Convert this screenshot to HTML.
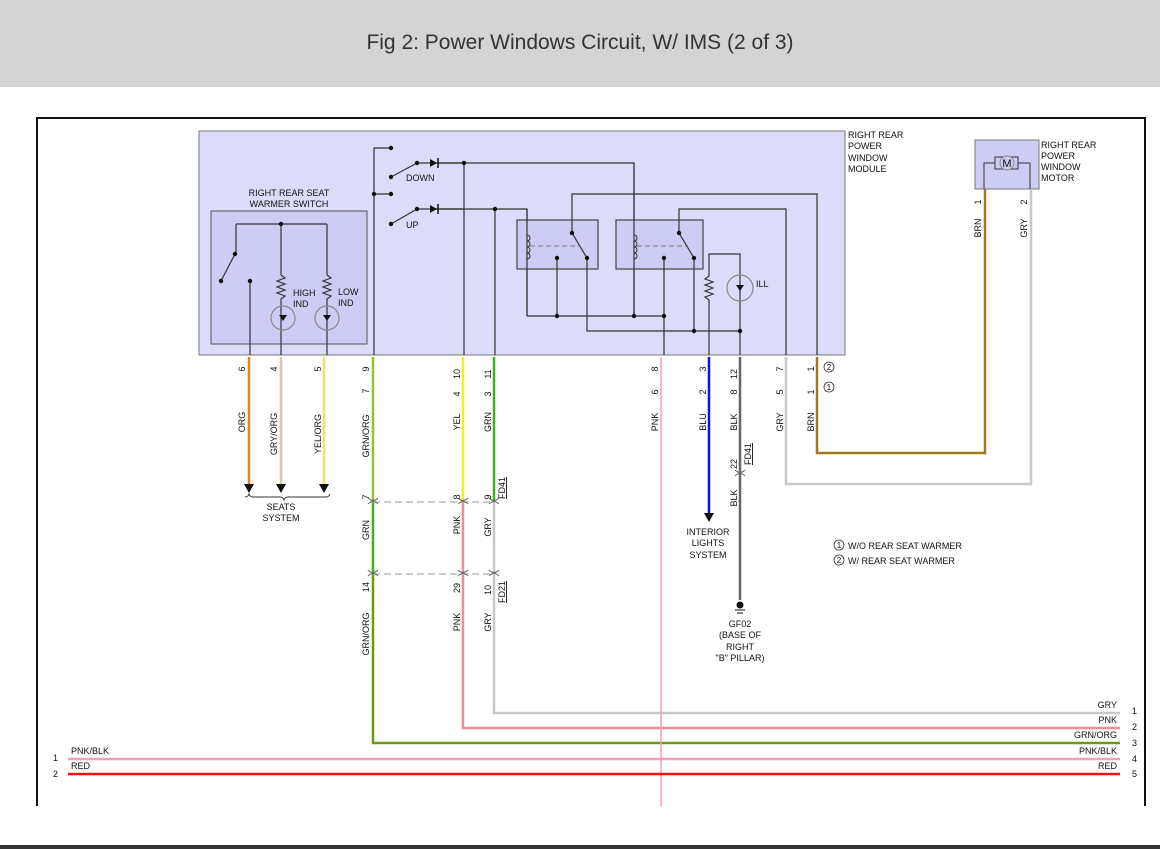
<!DOCTYPE html>
<html><head><meta charset="utf-8"><style>
html,body{margin:0;padding:0;background:#fff;}
svg{display:block;font-family:"Liberation Sans",sans-serif;}
text{font-size:9px;fill:#111;}
</style></head><body>
<svg width="1160" height="849" viewBox="0 0 1160 849" xmlns="http://www.w3.org/2000/svg">
<rect x="0" y="0" width="1160" height="87" fill="#d4d4d4"/>
<text x="580" y="49" text-anchor="middle" style="font-size:21px;fill:#333">Fig 2: Power Windows Circuit, W/ IMS (2 of 3)</text>
<rect x="0" y="845" width="1160" height="4" fill="#333"/>
<!-- frame -->
<path d="M37 806 V118 H1145 V806" fill="none" stroke="#111" stroke-width="2"/>

<!-- module -->
<rect x="199" y="131" width="646" height="224" fill="#dcdcfa" stroke="#777" stroke-width="1"/>
<text x="848" y="138">RIGHT REAR</text><text x="848" y="149">POWER</text><text x="848" y="161">WINDOW</text><text x="848" y="172">MODULE</text>
<rect x="211" y="211" width="156" height="133" fill="#ccccf4" stroke="#555"/>
<text x="289" y="196" text-anchor="middle">RIGHT REAR SEAT</text>
<text x="289" y="207" text-anchor="middle">WARMER SWITCH</text>

<g stroke="#333" stroke-width="1.2" fill="none">
<!-- warmer switch internals -->
<path d="M236 224 H327 M236 224 V254 M235 254 L221 281 M250 281 V355 M281 224 V275 M327 224 V275"/>
<path d="M281 275 l4 3 l-8 3 l8 3 l-8 3 l8 3 l-8 3 l8 3 l-4 3 V355"/>
<path d="M327 275 l4 3 l-8 3 l8 3 l-8 3 l8 3 l-8 3 l8 3 l-4 3 V355"/>
<circle cx="283" cy="318" r="12" stroke="#888"/><circle cx="327" cy="318" r="12" stroke="#888"/>
<!-- switches -->
<path d="M391 148 H374 V355 M374 194 H391 M391 177 L417 163 M391 224 L417 209"/>
<path d="M417 163 H464 M417 209 H464"/>
<path d="M438 163 H634 V316 M464 163 V355 M438 209 H527 V316 M495 209 V355"/>
<!-- relays -->
<rect x="517" y="220" width="81" height="49" fill="#ccccf4" stroke="#444"/>
<rect x="616" y="220" width="87" height="49" fill="#ccccf4" stroke="#444"/>
<path d="M527 209 V316 M634 163 V316"/>
<path d="M572 233 V194 H817 V355 M572 233 L587 258 M587 258 V331 H740 M557 258 V316"/>
<path d="M679 233 V209 H786 V355 M679 233 L694 258 M694 258 V331 M664 258 V355"/>
<path d="M527 316 H664"/>
<path d="M709 355 V300 l-4 -3 l8 -3 l-8 -3 l8 -3 l-8 -3 l8 -3 l-8 -3 l4 -3 V254 H740 V355"/>
<circle cx="740" cy="288" r="13" stroke="#888"/>
</g>
<!-- coils -->
<g stroke="#333" fill="none" stroke-width="1">
<path d="M527 235 a3 3 0 0 1 0 6 a3 3 0 0 1 0 6 a3 3 0 0 1 0 6 a3 3 0 0 1 0 6"/>
<path d="M634 235 a3 3 0 0 1 0 6 a3 3 0 0 1 0 6 a3 3 0 0 1 0 6 a3 3 0 0 1 0 6"/>
<path d="M530 246 H580 M637 246 H688" stroke="#777" stroke-dasharray="5,3"/>
</g>
<!-- diodes -->
<path d="M430 159 L430 167 L437 163 Z M430 205 L430 213 L437 209 Z" fill="#111"/>
<path d="M438 158 V168 M438 204 V214" stroke="#111" stroke-width="1.5"/>
<!-- LED glyphs -->
<path d="M279 315 h8 l-4 6 z M323 315 h8 l-4 6 z M736 285 h8 l-4 6 z" fill="#111"/>
<g fill="#111">
<circle cx="391" cy="148" r="2.2"/><circle cx="374" cy="194" r="2.2"/><circle cx="391" cy="194" r="2.2"/>
<circle cx="391" cy="177" r="2.2"/><circle cx="417" cy="163" r="2.2"/><circle cx="391" cy="224" r="2.2"/><circle cx="417" cy="209" r="2.2"/>
<circle cx="464" cy="163" r="2.2"/><circle cx="495" cy="209" r="2.2"/>
<circle cx="572" cy="233" r="2.2"/><circle cx="587" cy="258" r="2.2"/><circle cx="557" cy="258" r="2.2"/>
<circle cx="679" cy="233" r="2.2"/><circle cx="694" cy="258" r="2.2"/><circle cx="664" cy="258" r="2.2"/>
<circle cx="557" cy="316" r="2.2"/><circle cx="634" cy="316" r="2.2"/><circle cx="664" cy="316" r="2.2"/>
<circle cx="694" cy="331" r="2.2"/><circle cx="740" cy="331" r="2.2"/>
<circle cx="281" cy="224" r="2.2"/><circle cx="235" cy="254" r="2.2"/><circle cx="221" cy="281" r="2.2"/><circle cx="250" cy="281" r="2.2"/>
</g>
<text x="406" y="181">DOWN</text><text x="406" y="228">UP</text>
<text x="293" y="296">HIGH</text><text x="293" y="307">IND</text>
<text x="338" y="295">LOW</text><text x="338" y="306">IND</text>
<text x="756" y="287">ILL</text>

<!-- motor -->
<rect x="975" y="140" width="64" height="49" fill="#ccccf4" stroke="#777"/>
<text x="1041" y="148">RIGHT REAR</text><text x="1041" y="159">POWER</text><text x="1041" y="170">WINDOW</text><text x="1041" y="181">MOTOR</text>
<path d="M984 189 V163 H995 M1030 189 V163 H1018" stroke="#333" fill="none"/>
<rect x="995" y="157" width="23" height="12" fill="#ccccf4" stroke="#333"/>
<circle cx="1007" cy="163" r="7" fill="#ccccf4" stroke="#888"/>
<text x="1007" y="167" text-anchor="middle" style="font-size:11px">M</text>

<!-- wires -->
<g fill="none" stroke-width="2.5">
<path d="M249 357 V486" stroke="#f08010"/>
<path d="M281 357 V486" stroke="#d8c8b0"/>
<path d="M324 357 V486" stroke="#f0e070"/>
<path d="M373 357 V500" stroke="#98c040"/>
<path d="M373 500 V573" stroke="#44b020"/>
<path d="M373 573 V743 H1120" stroke="#6a9a10"/>
<path d="M463 357 V500" stroke="#f0f020"/>
<path d="M463 500 V728 H1120" stroke="#f08ca0"/>
<path d="M494 357 V500" stroke="#40b020"/>
<path d="M494 500 V713 H1120" stroke="#c8c8c8"/>
<path d="M661 357 V806" stroke="#f4a0b0" stroke-width="1.5"/>
<path d="M709 357 V515" stroke="#1010e0"/>
<path d="M740 357 V600" stroke="#666"/>
<path d="M786 357 V484 H1031 V189" stroke="#c8c8c8"/>
<path d="M817 357 V453 H985 V189" stroke="#a07a20"/>
<path d="M68 759 H1120" stroke="#f0a0b8"/>
<path d="M68 774 H1120" stroke="#ff1010"/>
</g>
<!-- arrows -->
<g fill="#111">
<path d="M244 484 h10 l-5 9 z M276 484 h10 l-5 9 z M319 484 h10 l-5 9 z M704 513 h10 l-5 9 z"/>
<circle cx="740" cy="605" r="3.5"/>
</g>
<path d="M735 610 h10 M737 613 h6" stroke="#111"/>
<path d="M245 497 q3 0 4 -3 q1 3 4 3 H280 q3 0 4 3 q1 -3 4 -3 H326 q3 0 4 -3" stroke="#333" fill="none"/>
<text x="281" y="510" text-anchor="middle">SEATS</text><text x="281" y="521" text-anchor="middle">SYSTEM</text>
<text x="708" y="535" text-anchor="middle">INTERIOR</text><text x="708" y="546" text-anchor="middle">LIGHTS</text><text x="708" y="558" text-anchor="middle">SYSTEM</text>
<text x="740" y="627" text-anchor="middle">GF02</text><text x="740" y="638" text-anchor="middle">(BASE OF</text><text x="740" y="650" text-anchor="middle">RIGHT</text><text x="740" y="661" text-anchor="middle">"B" PILLAR)</text>
<!-- connector dashes -->
<path d="M373 502 H494 M373 574 H494" stroke="#bbb" stroke-width="1.5" stroke-dasharray="7,4"/>
<g stroke="#666" fill="none">
<path d="M368 498 q5 5 10 0 M368 504 q5 -5 10 0 M458 498 q5 5 10 0 M458 504 q5 -5 10 0 M489 498 q5 5 10 0 M489 504 q5 -5 10 0"/>
<path d="M368 570 q5 5 10 0 M368 576 q5 -5 10 0 M458 570 q5 5 10 0 M458 576 q5 -5 10 0 M489 570 q5 5 10 0 M489 576 q5 -5 10 0"/>
<path d="M735 470 q5 5 10 0 M735 476 q5 -5 10 0"/>
</g>
<!-- vertical labels -->
<g>
<text transform="translate(245,369) rotate(-90)" text-anchor="middle">6</text>
<text transform="translate(245,422) rotate(-90)" text-anchor="middle">ORG</text>
<text transform="translate(277,369) rotate(-90)" text-anchor="middle">4</text>
<text transform="translate(277,434) rotate(-90)" text-anchor="middle">GRY/ORG</text>
<text transform="translate(321,369) rotate(-90)" text-anchor="middle">5</text>
<text transform="translate(321,434) rotate(-90)" text-anchor="middle">YEL/ORG</text>
<text transform="translate(369,369) rotate(-90)" text-anchor="middle">9</text>
<text transform="translate(369,391) rotate(-90)" text-anchor="middle">7</text>
<text transform="translate(369,436) rotate(-90)" text-anchor="middle">GRN/ORG</text>
<text transform="translate(369,497) rotate(-90)" text-anchor="middle">7</text>
<text transform="translate(369,530) rotate(-90)" text-anchor="middle">GRN</text>
<text transform="translate(369,587) rotate(-90)" text-anchor="middle">14</text>
<text transform="translate(369,634) rotate(-90)" text-anchor="middle">GRN/ORG</text>
<text transform="translate(460,374) rotate(-90)" text-anchor="middle">10</text>
<text transform="translate(460,394) rotate(-90)" text-anchor="middle">4</text>
<text transform="translate(460,422) rotate(-90)" text-anchor="middle">YEL</text>
<text transform="translate(460,497) rotate(-90)" text-anchor="middle">8</text>
<text transform="translate(460,525) rotate(-90)" text-anchor="middle">PNK</text>
<text transform="translate(460,588) rotate(-90)" text-anchor="middle">29</text>
<text transform="translate(460,622) rotate(-90)" text-anchor="middle">PNK</text>
<text transform="translate(491,374) rotate(-90)" text-anchor="middle">11</text>
<text transform="translate(491,394) rotate(-90)" text-anchor="middle">3</text>
<text transform="translate(491,422) rotate(-90)" text-anchor="middle">GRN</text>
<text transform="translate(491,497) rotate(-90)" text-anchor="middle">9</text>
<text transform="translate(491,527) rotate(-90)" text-anchor="middle">GRY</text>
<text transform="translate(491,590) rotate(-90)" text-anchor="middle">10</text>
<text transform="translate(491,622) rotate(-90)" text-anchor="middle">GRY</text>
<text transform="translate(505,488) rotate(-90)" text-anchor="middle" text-decoration="underline">FD41</text>
<text transform="translate(505,592) rotate(-90)" text-anchor="middle" text-decoration="underline">FD21</text>
<text transform="translate(658,369) rotate(-90)" text-anchor="middle">8</text>
<text transform="translate(658,392) rotate(-90)" text-anchor="middle">6</text>
<text transform="translate(658,422) rotate(-90)" text-anchor="middle">PNK</text>
<text transform="translate(706,369) rotate(-90)" text-anchor="middle">3</text>
<text transform="translate(706,392) rotate(-90)" text-anchor="middle">2</text>
<text transform="translate(706,422) rotate(-90)" text-anchor="middle">BLU</text>
<text transform="translate(737,374) rotate(-90)" text-anchor="middle">12</text>
<text transform="translate(737,392) rotate(-90)" text-anchor="middle">8</text>
<text transform="translate(737,422) rotate(-90)" text-anchor="middle">BLK</text>
<text transform="translate(737,464) rotate(-90)" text-anchor="middle">22</text>
<text transform="translate(751,454) rotate(-90)" text-anchor="middle" text-decoration="underline">FD41</text>
<text transform="translate(737,498) rotate(-90)" text-anchor="middle">BLK</text>
<text transform="translate(783,369) rotate(-90)" text-anchor="middle">7</text>
<text transform="translate(783,392) rotate(-90)" text-anchor="middle">5</text>
<text transform="translate(783,422) rotate(-90)" text-anchor="middle">GRY</text>
<text transform="translate(814,369) rotate(-90)" text-anchor="middle">1</text>
<text transform="translate(814,392) rotate(-90)" text-anchor="middle">1</text>
<text transform="translate(814,422) rotate(-90)" text-anchor="middle">BRN</text>
<text transform="translate(981,202) rotate(-90)" text-anchor="middle">1</text>
<text transform="translate(981,228) rotate(-90)" text-anchor="middle">BRN</text>
<text transform="translate(1027,202) rotate(-90)" text-anchor="middle">2</text>
<text transform="translate(1027,228) rotate(-90)" text-anchor="middle">GRY</text>
</g>
<circle cx="829" cy="367" r="5" fill="none" stroke="#333" stroke-width="0.8"/><text x="829" y="370" text-anchor="middle" style="font-size:8px">2</text>
<circle cx="829" cy="387" r="5" fill="none" stroke="#333" stroke-width="0.8"/><text x="829" y="390" text-anchor="middle" style="font-size:8px">1</text>
<circle cx="839" cy="545" r="5" fill="none" stroke="#333" stroke-width="0.8"/><text x="839" y="548" text-anchor="middle" style="font-size:8px">1</text>
<circle cx="839" cy="560" r="5" fill="none" stroke="#333" stroke-width="0.8"/><text x="839" y="563" text-anchor="middle" style="font-size:8px">2</text>
<text x="848" y="549">W/O REAR SEAT WARMER</text>
<text x="848" y="564">W/ REAR SEAT WARMER</text>
<!-- bottom labels -->
<text x="1117" y="708" text-anchor="end">GRY</text>
<text x="1117" y="723" text-anchor="end">PNK</text>
<text x="1117" y="738" text-anchor="end">GRN/ORG</text>
<text x="1117" y="754" text-anchor="end">PNK/BLK</text>
<text x="1117" y="769" text-anchor="end">RED</text>
<text x="1132" y="714">1</text><text x="1132" y="730">2</text><text x="1132" y="746">3</text><text x="1132" y="762">4</text><text x="1132" y="777">5</text>
<text x="71" y="754">PNK/BLK</text><text x="71" y="769">RED</text>
<text x="53" y="761">1</text><text x="53" y="777">2</text>
</svg>
</body></html>
